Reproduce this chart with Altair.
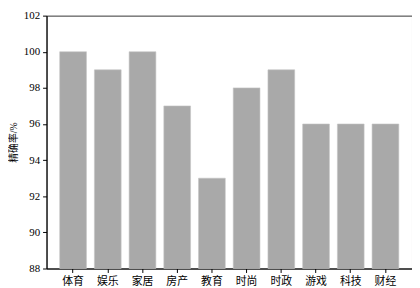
import altair as alt
import pandas as pd

categories = ["体育", "娱乐", "家居", "房产", "教育", "时尚", "时政", "游戏", "科技", "财经"]
values = [100, 99, 100, 97, 93, 98, 99, 96, 96, 96]
y_ticks = [88, 90, 92, 94, 96, 98, 100, 102]

df = pd.DataFrame({"cat": categories, "val": values})

font = "Liberation Serif, Noto Sans CJK SC"

chart = alt.Chart(df).mark_bar(color="#a9a9a9", stroke="#c4c4c4", strokeWidth=0.6).encode(
    x=alt.X("cat:N", sort=categories, title=None,
            scale=alt.Scale(paddingInner=0.23, paddingOuter=0.38),
            axis=alt.Axis(labelAngle=0, labelFontSize=11, labelFont=font, labelColor="#000",
                          tickSize=4, tickColor="#000", domainColor="#000", labelPadding=3)),
    y=alt.Y("val:Q", title="精确率/%",
            scale=alt.Scale(domain=[88, 102], zero=False, nice=False),
            axis=alt.Axis(values=y_ticks, grid=False, labelFontSize=11, labelFont=font,
                          labelColor="#000", tickSize=4, tickColor="#000", domainColor="#000",
                          titleFont=font, titleFontSize=10, titleFontWeight="normal",
                          titleColor="#000", titlePadding=5, labelPadding=3)),
    y2=alt.datum(88),
).properties(width=370, height=256, padding=0).configure_view(
    stroke="#333", strokeWidth=1
)

chart.save("out.html", embed_options={"renderer": "svg", "actions": False})
